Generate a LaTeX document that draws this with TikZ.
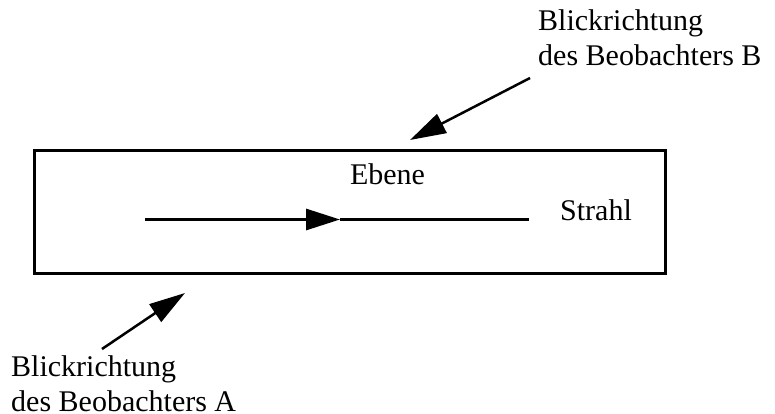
\documentclass[tikz,border=0pt]{standalone}
\usepackage{fontspec}
\setmainfont{Liberation Serif}
\usetikzlibrary{arrows.meta}
\begin{document}
\begin{tikzpicture}[x=1pt,y=-1pt,
  lbl/.style={inner sep=0pt,font=\fontsize{30}{35}\selectfont},
  pfeil/.style={line width=2.5pt,-{Triangle[length=36pt,width=21pt]}},
  strahlpfeil/.style={line width=3pt,-{Triangle[length=34pt,width=21pt]}}]
\useasboundingbox (0,0) rectangle (775,414);
% plane
\node[draw,line width=3.3pt,minimum width=631pt,minimum height=122.5pt,inner sep=0pt,anchor=north west] (ebene) at (32.5,149) {};
\node[lbl,anchor=base] (ebenetxt) at (387.5,184) {Ebene};
\node[lbl,anchor=base west] (strahltxt) at (560,220) {Strahl};
% ray
\coordinate (rs) at (145,219.5);
\coordinate (rm) at (340,219.5);
\coordinate (re) at (529,219.5);
\draw[strahlpfeil] (rs) -- (rm);
\draw[line width=3pt] (rm) -- (re);
% observer B
\node[lbl,anchor=north west,align=left] (beobB) at (538,9.5) {Blickrichtung\\des Beobachters B};
\coordinate (bs) at (530,78);
\coordinate (be) at (410,140);
\draw[pfeil] (bs) -- (be);
% observer A
\node[lbl,anchor=north west,align=left] (beobA) at (11,355.5) {Blickrichtung\\des Beobachters A};
\coordinate (as) at (102,349);
\coordinate (ae) at (185,293);
\draw[pfeil] (as) -- (ae);
\end{tikzpicture}
\end{document}
